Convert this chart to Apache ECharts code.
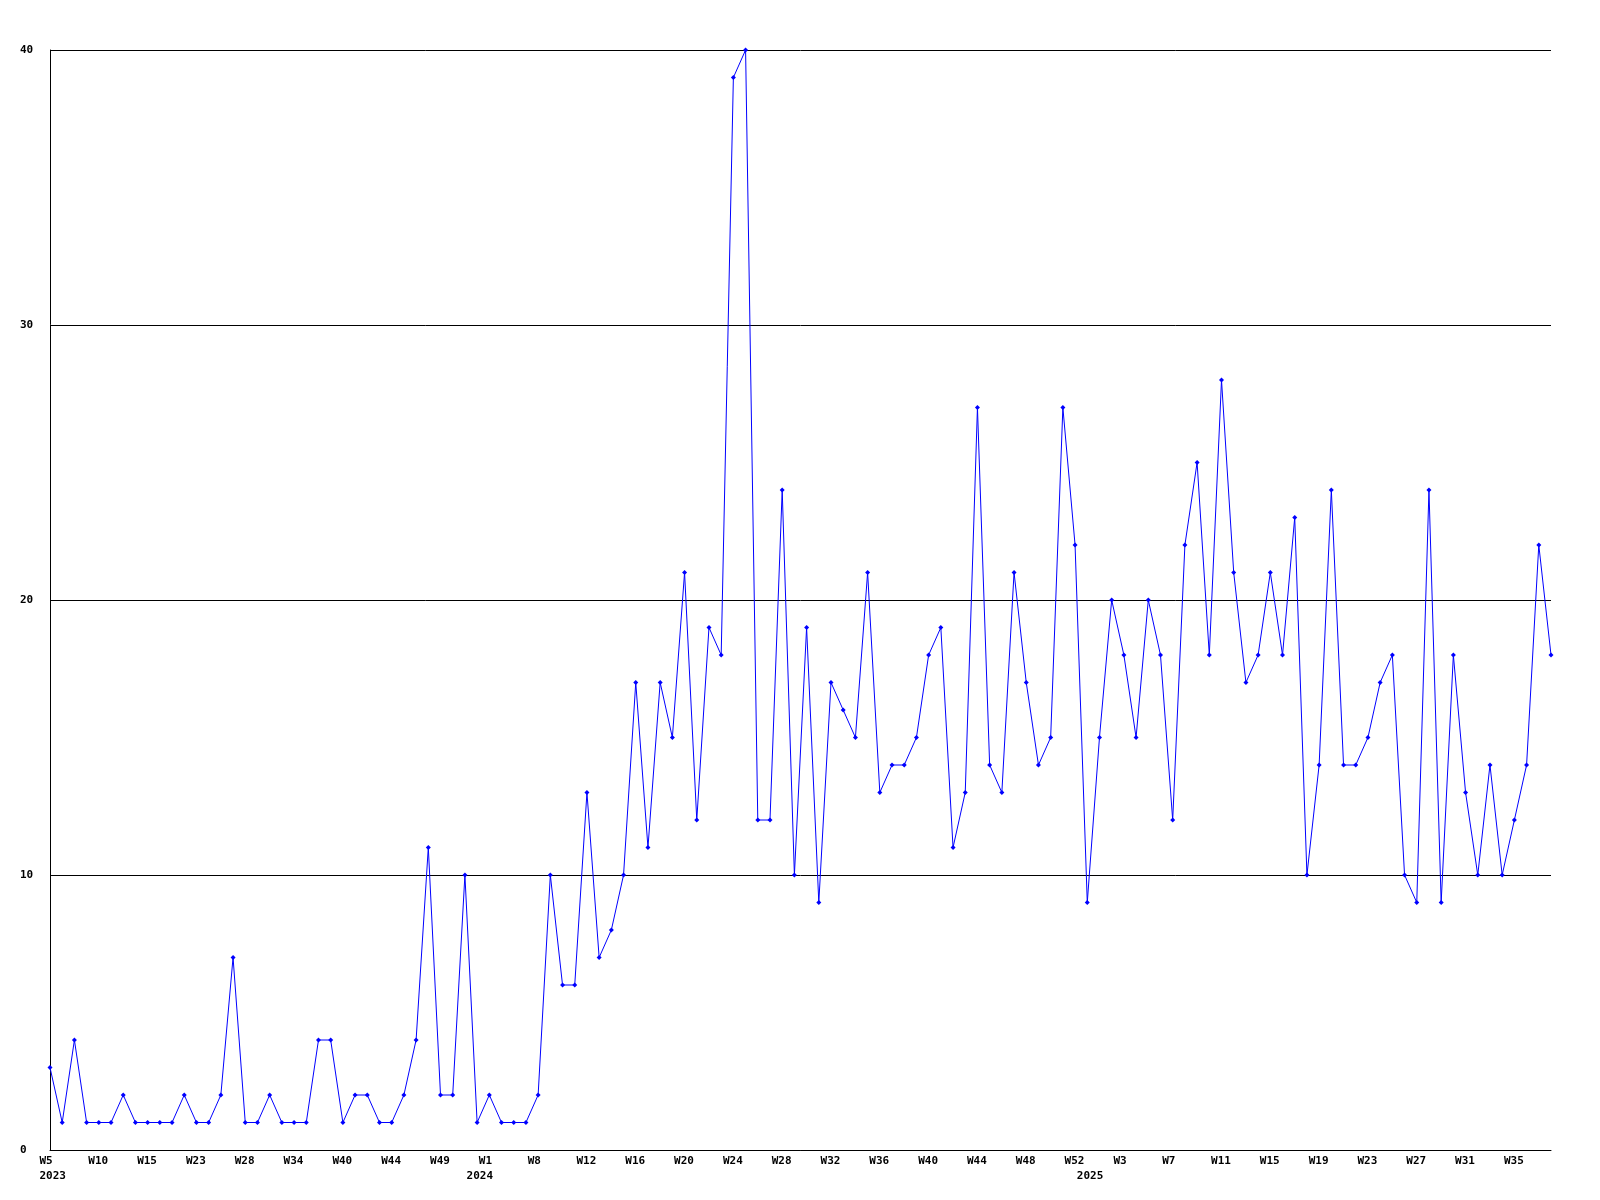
<!DOCTYPE html>
<html>
<head>
<meta charset="utf-8">
<script src="https://cdn.jsdelivr.net/npm/echarts@6/dist/echarts.min.js"></script>
<style>
html,body{margin:0;padding:0;background:#fff;}
#chart{width:1600px;height:1200px;}
</style>
</head>
<body>
<div id="chart"></div>
<script>
// Week categories (only every 4th one is labelled in the chart)
const weeks2023 = ['W5','W7','W8','W9','W10','W11','W12','W13','W15','W17','W19','W21','W23','W25','W26','W27','W28','W29','W30','W32','W34','W35','W37','W38','W40','W41','W42','W43','W44','W45','W46','W47','W49','W50','W51'];
const weeks2024 = ['W0','W1','W3','W5','W7','W8','W9','W10','W11','W12','W13','W14','W15','W16','W17','W18','W19','W20','W21','W22','W23','W24','W25','W26','W27','W28','W29','W30','W31','W32','W33','W34','W35','W36','W37','W38','W39','W40','W41','W42','W43','W44','W45','W46','W47','W48','W49','W50','W51','W52'];
const weeks2025 = ['W0','W1','W2','W3','W4','W5','W6','W7','W8','W9','W10','W11','W12','W13','W14','W15','W16','W17','W18','W19','W20','W21','W22','W23','W24','W25','W26','W27','W28','W29','W30','W31','W32','W33','W34','W35','W36','W37','W38'];
const years = ['2023','2024','2025'];

// Values per week
const values2023 = [3,1,4,1,1,1,2,1,1,1,1,2,1,1,2,7,1,1,2,1,1,1,4,4,1,2,2,1,1,2,4,11,2,2,10];
const values2024 = [1,2,1,1,1,2,10,6,6,13,7,8,10,17,11,17,15,21,12,19,18,39,40,12,12,24,10,19,9,17,16,15,21,13,14,14,15,18,19,11,13,27,14,13,21,17,14,15,27,22];
const values2025 = [9,15,20,18,15,20,18,12,22,25,18,28,21,17,18,21,18,23,10,14,24,14,14,15,17,18,10,9,24,9,18,13,10,14,10,12,14,22,18];

const yTicks = [0,10,20,30,40];

const weekGroups = [weeks2023, weeks2024, weeks2025];
const categories = [].concat(...weekGroups);
const yearLabels = [];
weekGroups.forEach((g, gi) => g.forEach((w, i) => yearLabels.push(i === 0 ? years[gi] : '')));
const values = [].concat(values2023, values2024, values2025);

const FONT = '"DejaVu Sans Mono", "Liberation Mono", monospace';
const labelRich = {t: {width: 21, align: 'left', color: '#000', fontFamily: FONT, fontWeight: 'bold', fontSize: 11}};
const chart = echarts.init(document.getElementById('chart'), null, {renderer: 'canvas'});
chart.setOption({
  animation: false,
  backgroundColor: '#ffffff',
  grid: {left: 50, right: 49, top: 50, bottom: 50, containLabel: false},
  xAxis: [{
    type: 'category',
    data: categories,
    boundaryGap: false,
    axisLine: {show: true, lineStyle: {color: '#000', width: 1}},
    axisTick: {show: false},
    splitLine: {show: false},
    axisLabel: {interval: 3, margin: 6, color: '#000', fontFamily: FONT, fontWeight: 'bold', fontSize: 11,
      formatter: v => '{t|' + v + '}', rich: labelRich}
  }, {
    type: 'category',
    data: yearLabels,
    boundaryGap: false,
    position: 'bottom',
    offset: 15,
    axisLine: {show: false},
    axisTick: {show: false},
    splitLine: {show: false},
    axisLabel: {interval: 0, margin: 6, color: '#000', fontFamily: FONT, fontWeight: 'bold', fontSize: 11,
      formatter: v => v ? '{t|' + v + '}' : '', rich: labelRich}
  }],
  yAxis: {
    type: 'value',
    min: yTicks[0],
    max: yTicks[yTicks.length - 1],
    interval: 10,
    axisLine: {show: true, lineStyle: {color: '#000', width: 1}},
    axisTick: {show: false},
    splitLine: {show: true, lineStyle: {color: '#000', width: 1}},
    axisLabel: {align: 'left', margin: 30, color: '#000', fontFamily: FONT, fontWeight: 'bold', fontSize: 11}
  },
  series: [{
    type: 'line',
    data: values,
    xAxisIndex: 0,
    color: '#0000ff',
    lineStyle: {color: '#0000ff', width: 1},
    itemStyle: {color: '#0000ff'},
    symbol: 'diamond',
    symbolSize: 5,
    showSymbol: true,
    showAllSymbol: true
  }]
});
</script>
</body>
</html>
